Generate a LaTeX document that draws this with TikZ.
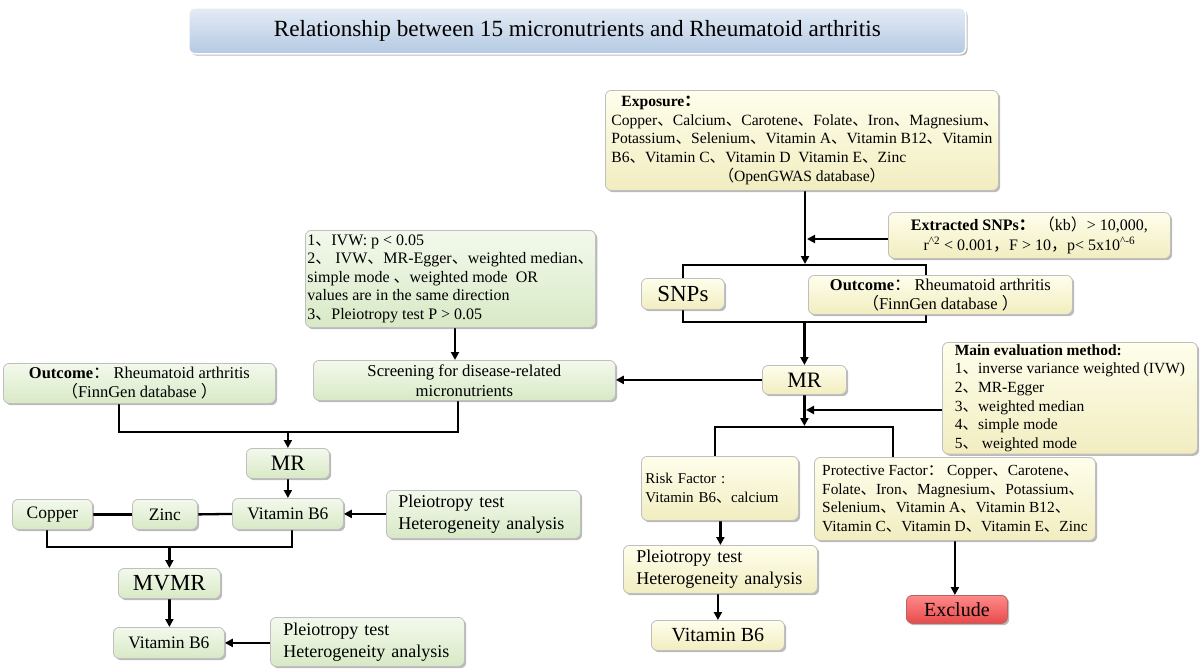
\documentclass[tikz,border=0pt]{standalone}
\usepackage{fontspec}
\setmainfont{Liberation Serif}
\newfontfamily\cjk{Noto Sans CJK SC}
\usetikzlibrary{shadows,arrows.meta,backgrounds}
\newcommand\zd{{\cjk 、}}
\newcommand\zc{{\cjk ：}}
\newcommand\zl{{\cjk （}}
\newcommand\zr{{\cjk ）}}
\newcommand\zk{{\cjk ，}}
\newcommand\fsz[2]{\fontsize{#1}{#2}\selectfont}
\definecolor{crT}{HTML}{FFFEEC}
\definecolor{crB}{HTML}{F1EDC0}
\definecolor{grT}{HTML}{F3F9EC}
\definecolor{grB}{HTML}{D8E9C6}
\definecolor{blT}{HTML}{E4ECF6}
\definecolor{blB}{HTML}{B4C9E2}
\definecolor{rdT}{HTML}{FF8A8A}
\definecolor{rdB}{HTML}{E84A4A}
\tikzset{
  base/.style={rounded corners=6pt, draw=black!25, line width=0.8pt, inner sep=2pt,
    drop shadow={shadow xshift=1.8pt, shadow yshift=-1.8pt, fill=black!60, opacity=0.45},
    anchor=north west},
  cbox/.style={base, top color=crT, bottom color=crB},
  gbox/.style={base, top color=grT, bottom color=grB},
  tbox/.style={base, top color=blT, bottom color=blB, draw=white, line width=1.5pt},
  ebox/.style={base, top color=rdT, bottom color=rdB, draw=red!50!black!60},
  link/.style={line width=2.3pt, black},
  arr/.style={link, -{Triangle[length=8pt,width=8pt]}},
}
\begin{document}
\begin{tikzpicture}[x=1pt,y=-1pt]
\useasboundingbox (0,0) rectangle (1200,670);

% title
\node[tbox, minimum width=777pt, minimum height=46pt, font=\fsz{23.2}{26}] (title) at (188,7)
  {Relationship between 15 micronutrients and Rheumatoid arthritis};

% right column
\node[cbox, minimum width=393pt, minimum height=100pt, align=center, font=\fsz{15.6}{18.8}] (expo) at (605,90)
  {\makebox[381pt][l]{\hspace{10pt}\textbf{Exposure\zc}}\\
   \makebox[381pt][l]{Copper\zd Calcium\zd Carotene\zd Folate\zd Iron\zd Magnesium\zd}\\
   \makebox[381pt][l]{Potassium\zd Selenium\zd Vitamin A\zd Vitamin B12\zd Vitamin}\\
   \makebox[381pt][l]{B6\zd Vitamin C\zd Vitamin D\ \ Vitamin E\zd Zinc}\\
   \zl OpenGWAS database\zr};

\node[cbox, minimum width=282pt, minimum height=46pt, align=center, font=\fsz{16}{20}] (extr) at (888,212)
  {\textbf{Extracted SNPs\zc}\ \zl kb\zr> 10,000,\\
   r\textsuperscript{\textasciicircum 2} < 0.001\zk F > 10\zk p< 5x10\textsuperscript{\textasciicircum -6}};

\node[cbox, minimum width=83pt, minimum height=31pt, font=\fsz{23}{25}] (snps) at (641,278) {SNPs};

\node[cbox, minimum width=264pt, minimum height=39pt, align=center, font=\fsz{16.5}{19}] (outR) at (808,275)
  {\textbf{Outcome}\zc\ Rheumatoid arthritis\\ \zl FinnGen database \zr};

\node[cbox, minimum width=84pt, minimum height=29pt, font=\fsz{22}{24}] (mrR) at (762,365) {MR};

\node[cbox, minimum width=255pt, minimum height=110pt, align=left, font=\fsz{15.5}{18.7}] (meval) at (942,342)
  {\textbf{Main evaluation method:}\\
   1\zd inverse variance weighted (IVW)\\
   2\zd MR-Egger\\
   3\zd weighted median\\
   4\zd simple mode\\
   5\zd\ weighted mode};

\node[cbox, minimum width=157pt, minimum height=64pt, text width=149pt, align=left, font=\fsz{15}{18.5}] (risk) at (641,456)
  {Risk Factor :\\ Vitamin B6\zd calcium};

\node[cbox, minimum width=281pt, minimum height=83pt, align=left, font=\fsz{15.4}{18.7}] (prot) at (814,457)
  {Protective Factor\zc\ Copper\zd Carotene\zd\\
   Folate\zd Iron\zd Magnesium\zd Potassium\zd\\
   Selenium\zd Vitamin A\zd Vitamin B12\zd\\
   Vitamin C\zd Vitamin D\zd Vitamin E\zd Zinc};

\node[cbox, minimum width=194pt, minimum height=48pt, text width=168pt, align=left, font=\fsz{18}{22}] (pleR) at (623,545)
  {Pleiotropy test\\ Heterogeneity analysis};

\node[cbox, minimum width=133pt, minimum height=30pt, font=\fsz{20}{22}] (b6R) at (651,620) {Vitamin B6};

\node[ebox, minimum width=101pt, minimum height=28pt, font=\fsz{20}{22}] (exc) at (906,595) {Exclude};

% left column
\node[gbox, minimum width=288pt, minimum height=97pt, align=left, font=\fsz{16}{18.5}] (crit) at (305,230)
  {1\zd IVW: p < 0.05\\
   2\zd\ IVW\zd MR-Egger\zd weighted median\zd\\
   simple mode \zd weighted mode\ \ OR\\
   values are in the same direction\\
   3\zd Pleiotropy test P > 0.05};

\node[gbox, minimum width=302pt, minimum height=40pt, align=center, font=\fsz{16.7}{20}] (scr) at (313,360)
  {Screening for disease-related\\ micronutrients};

\node[gbox, minimum width=272pt, minimum height=40pt, align=center, font=\fsz{16.5}{19}] (outL) at (3,363)
  {\textbf{Outcome}\zc\ Rheumatoid arthritis\\ \zl FinnGen database \zr};

\node[gbox, minimum width=83pt, minimum height=30pt, font=\fsz{22}{24}] (mrL) at (246,448) {MR};

\node[gbox, minimum width=80pt, minimum height=30pt, font=\fsz{17.5}{20}] (cop) at (12,499) {Copper};
\node[gbox, minimum width=65pt, minimum height=30pt, font=\fsz{17.5}{20}] (zinc) at (132,499) {Zinc};
\node[gbox, minimum width=111pt, minimum height=31pt, font=\fsz{17.5}{20}] (b6L) at (232,498) {Vitamin B6};

\node[gbox, minimum width=194pt, minimum height=48pt, text width=170pt, align=left, font=\fsz{18}{22}] (pleL) at (386,490)
  {Pleiotropy test\\ Heterogeneity analysis};

\node[gbox, minimum width=102pt, minimum height=30pt, font=\fsz{23}{25}] (mvmr) at (118,568) {MVMR};

\node[gbox, minimum width=111pt, minimum height=31pt, font=\fsz{17.5}{20}] (b6b) at (113,627) {Vitamin B6};

\node[gbox, minimum width=194pt, minimum height=49pt, text width=168pt, align=left, font=\fsz{18}{22}] (pleB) at (270,617)
  {Pleiotropy test\\ Heterogeneity analysis};

% junction coordinates
\coordinate (j1) at (805,264);
\coordinate (ya) at (807,239);
\coordinate (b1l) at (683,265);
\coordinate (b1br) at (926,322);
\coordinate (j2) at (804,426);
\coordinate (yb) at (806,410);
\coordinate (b2l) at (715,427);
\coordinate (b2r) at (893,427);
\coordinate (c455) at (455,0);
\coordinate (b3l) at (119,432);
\coordinate (b3r) at (458,432);
\coordinate (b4l) at (47,547);
\coordinate (b4r) at (292,547);

\begin{scope}[on background layer]
\draw[arr] (expo.south -| j1) -- (j1);
\draw[arr] (extr.west |- ya) -- (ya);
\draw[link] (b1l) rectangle (b1br);
\draw[arr] (mrR.north |- b1br) -- (mrR.north);
\draw[arr] (mrR.west) -- (scr.east |- mrR.west);
\draw[arr] (mrR.south) -- (mrR.south |- j2);
\draw[arr] (meval.west |- yb) -- (yb);
\draw[link] (risk.north -| b2l) -- (b2l) -- (b2r) -- (prot.north -| b2r);
\draw[arr] (risk.south -| pleR.north) -- (pleR.north);
\draw[arr] (b6R.north |- pleR.south) -- (b6R.north);
\draw[arr] (prot.south) -- (prot.south |- exc.north);

\draw[arr] (crit.south -| c455) -- (scr.north -| c455);
\draw[link] (outL.south -| b3l) -- (b3l) -- (b3r) -- (scr.south -| b3r);
\draw[arr] (mrL.north |- b3l) -- (mrL.north);
\draw[arr] (mrL.south) -- (mrL.south |- b6L.north);
\draw[link] (cop.east) -- (zinc.west);
\draw[link] (zinc.east) -- (b6L.west);
\draw[arr] (pleL.west |- b6L.east) -- (b6L.east);
\draw[link] (cop.south -| b4l) -- (b4l) -- (b4r) -- (b6L.south -| b4r);
\draw[arr] (mvmr.north |- b4l) -- (mvmr.north);
\draw[arr] (mvmr.south) -- (mvmr.south |- b6b.north);
\draw[arr] (pleB.west |- b6b.east) -- (b6b.east);
\end{scope}
\end{tikzpicture}
\end{document}
